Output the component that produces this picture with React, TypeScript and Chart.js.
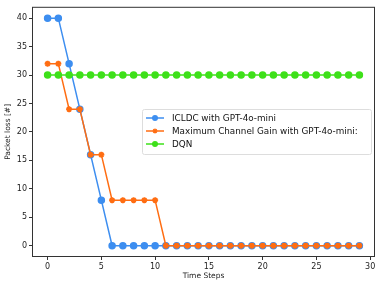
import React, { useEffect, useRef } from "react";
import { Chart, registerables } from "chart.js";

Chart.register(...registerables);

const TIME_STEPS = [0,1,2,3,4,5,6,7,8,9,10,11,12,13,14,15,16,17,18,19,20,21,22,23,24,25,26,27,28,29];
const ICLDC = [40,40,32,24,16,8,0,0,0,0,0,0,0,0,0,0,0,0,0,0,0,0,0,0,0,0,0,0,0,0];
const MAX_GAIN = [32,32,24,24,16,16,8,8,8,8,8,0,0,0,0,0,0,0,0,0,0,0,0,0,0,0,0,0,0,0];
const DQN = [30,30,30,30,30,30,30,30,30,30,30,30,30,30,30,30,30,30,30,30,30,30,30,30,30,30,30,30,30,30];
const SERIES_LABELS = ["ICLDC with GPT-4o-mini", "Maximum Channel Gain with GPT-4o-mini:", "DQN"];
const X_TICKS = [0, 5, 10, 15, 20, 25, 30];
const Y_TICKS = [0, 5, 10, 15, 20, 25, 30, 35, 40];

const BLUE = "#3d8ef0";
const ORANGE = "#ff6d12";
const GREEN = "#3ee01a";
const FONT = "'DejaVu Sans', sans-serif";

const frameAndLegend = {
  id: "frameAndLegend",
  afterDatasetsDraw(chart: any) {
    const { ctx, chartArea } = chart;
    ctx.save();
    ctx.strokeStyle = "#333";
    ctx.lineWidth = 1;
    ctx.strokeRect(chartArea.left + 0.5, chartArea.top + 0.5, chartArea.right - chartArea.left - 1, chartArea.bottom - chartArea.top - 1);

    // legend
    const lx = 142, ly = 109, lw = 229, lh = 45;
    ctx.fillStyle = "rgba(255,255,255,0.85)";
    ctx.strokeStyle = "#dddddd";
    ctx.lineWidth = 1;
    ctx.beginPath();
    ctx.roundRect(lx + 0.5, ly + 0.5, lw, lh, 2);
    ctx.fill();
    ctx.stroke();
    const ds = chart.data.datasets;
    ctx.font = `8.8px ${FONT}`;
    ctx.textBaseline = "middle";
    for (let i = 0; i < ds.length; i++) {
      const y = ly + 9 + i * 13;
      const d = ds[i];
      ctx.strokeStyle = d.borderColor;
      ctx.lineWidth = 1.5;
      ctx.beginPath();
      ctx.moveTo(lx + 4, y);
      ctx.lineTo(lx + 22, y);
      ctx.stroke();
      ctx.fillStyle = d.borderColor;
      if (d.pointStyle === "star") {
        ctx.lineWidth = 1.2;
        ctx.beginPath();
        for (let k = 0; k < 4; k++) {
          const a = (k * Math.PI) / 4;
          ctx.moveTo(lx + 13 - 2.5 * Math.cos(a), y - 2.5 * Math.sin(a));
          ctx.lineTo(lx + 13 + 2.5 * Math.cos(a), y + 2.5 * Math.sin(a));
        }
        ctx.stroke();
      } else {
        ctx.beginPath();
        ctx.arc(lx + 13, y, 3, 0, Math.PI * 2);
        ctx.fill();
      }
      ctx.fillStyle = "#111";
      ctx.fillText(d.label, lx + 30, y + 0.5);
    }
    ctx.restore();
  },
};

export default function App() {
  const ref = useRef<HTMLCanvasElement>(null);
  useEffect(() => {
    const chart = new Chart(ref.current!, {
      type: "line",
      data: {
        labels: TIME_STEPS,
        datasets: [
          {
            label: SERIES_LABELS[0],
            data: TIME_STEPS.map((t, i) => ({ x: t, y: ICLDC[i] })),
            borderColor: BLUE,
            backgroundColor: BLUE,
            borderWidth: 1.5,
            pointRadius: 3,
            pointStyle: "circle",
            order: 2,
          },
          {
            label: SERIES_LABELS[1],
            data: TIME_STEPS.map((t, i) => ({ x: t, y: MAX_GAIN[i] })),
            borderColor: ORANGE,
            backgroundColor: ORANGE,
            borderWidth: 1.5,
            pointRadius: 3,
            pointBorderWidth: 1.8,
            pointStyle: "star",
            order: 1,
          },
          {
            label: SERIES_LABELS[2],
            data: TIME_STEPS.map((t, i) => ({ x: t, y: DQN[i] })),
            borderColor: GREEN,
            backgroundColor: GREEN,
            borderWidth: 1.5,
            pointRadius: 3,
            pointStyle: "circle",
            order: 0,
          },
        ],
      } as any,
      options: {
        animation: false,
        responsive: true,
        maintainAspectRatio: false,
        layout: { padding: { top: 5, right: 6, left: 4, bottom: 5 } },
        plugins: { legend: { display: false }, tooltip: { enabled: false } },
        scales: {
          x: {
            type: "linear",
            min: -1.45,
            max: 30.45,
            afterBuildTicks: (s: any) => { s.ticks = X_TICKS.map((v) => ({ value: v })); },
            afterFit: (s: any) => { s.height = 24; },
            grid: { drawOnChartArea: false, drawTicks: true, tickLength: 3, color: "#333" },
            border: { display: false },
            ticks: { color: "#222", font: { family: FONT, size: 8 }, padding: 2, maxRotation: 0, autoSkip: false },
            title: { display: true, text: "Time Steps", color: "#222", font: { family: FONT, size: 7.5 }, padding: { top: 0, bottom: 0 } },
          },
          y: {
            type: "linear",
            min: -2,
            max: 42,
            afterBuildTicks: (s: any) => { s.ticks = Y_TICKS.map((v) => ({ value: v })); },
            afterFit: (s: any) => { s.width = 28; },
            grid: { drawOnChartArea: false, drawTicks: true, tickLength: 3, color: "#333" },
            border: { display: false },
            ticks: { color: "#222", font: { family: FONT, size: 8 }, padding: 2, autoSkip: false },
            title: { display: true, text: "Packet loss [#]", color: "#222", font: { family: FONT, size: 7.5 }, padding: { top: 0, bottom: 1 } },
          },
        },
      },
      plugins: [frameAndLegend],
    });
    return () => chart.destroy();
  }, []);
  return (
    <div style={{ position: "fixed", left: 0, top: 0, width: 381, height: 286, background: "#fff" }}>
      <canvas ref={ref} />
    </div>
  );
}
